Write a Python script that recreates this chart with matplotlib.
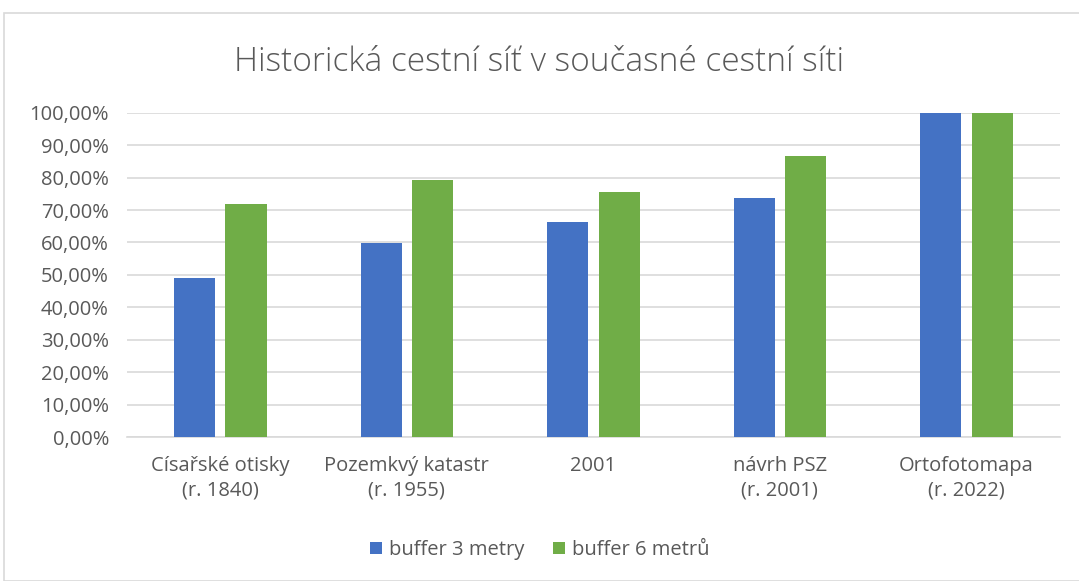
import numpy as np
import matplotlib.pyplot as plt
from matplotlib.ticker import FuncFormatter
from matplotlib.patches import Rectangle

categories = ['Císařské otisky\n(r. 1840)', 'Pozemkvý katastr\n(r. 1955)', '2001',
              'návrh PSZ\n(r. 2001)', 'Ortofotomapa\n(r. 2022)']
buffer_3 = [49.1, 59.9, 66.2, 73.7, 100.0]
buffer_6 = [71.8, 79.4, 75.5, 86.8, 100.0]
series_names = ['buffer 3 metry', 'buffer 6 metrů']

plt.rcParams['font.family'] = ['Open Sans', 'DejaVu Sans']
txt = '#595959'

fig = plt.figure(figsize=(10.79, 5.81), dpi=100)
fig.patches.append(Rectangle((4 / 1079, 0), 1, 1 - 13 / 581, transform=fig.transFigure,
                             fill=False, edgecolor='#D9D9D9', linewidth=1.2))
ax = fig.add_axes([0.1177, 0.2478, 0.8643, 0.5582])

x = np.arange(len(categories))
w = 0.22
ax.bar(x - 0.138, buffer_3, w, color='#4472C4', label=series_names[0], zorder=3)
ax.bar(x + 0.138, buffer_6, w, color='#70AD47', label=series_names[1], zorder=3)

ax.set_xlim(-0.5, len(categories) - 0.5)
ax.set_ylim(0, 100)
ax.set_yticks(np.arange(0, 101, 10))
ax.yaxis.set_major_formatter(FuncFormatter(lambda v, p: f'{v:.2f}'.replace('.', ',') + '%'))
ax.set_xticks(x)
ax.set_xticklabels(categories, fontsize=14.5, color=txt, linespacing=1.3)
ax.tick_params(axis='y', labelsize=14.5, labelcolor=txt, length=0, pad=13)
ax.tick_params(axis='x', length=0, pad=14)
ax.grid(axis='y', color='#D9D9D9', linewidth=1.2, zorder=0)
for s in ['top', 'right', 'left']:
    ax.spines[s].set_visible(False)
ax.spines['bottom'].set_color('#D9D9D9')
ax.spines['bottom'].set_linewidth(1.2)

fig.text(0.5, 1 - 62 / 581, 'Historická cestní síť v současné cestní síti', ha='center', va='center',
         fontsize=24, color=txt, fontweight='light')
fig.legend(loc='center', bbox_to_anchor=(0.5, 1 - 550 / 581), ncol=2, frameon=False,
           fontsize=14.5, labelcolor=txt, handlelength=0.6, handleheight=0.6, handletextpad=0.35,
           columnspacing=1.4)

fig.savefig('out.png', dpi=100)
